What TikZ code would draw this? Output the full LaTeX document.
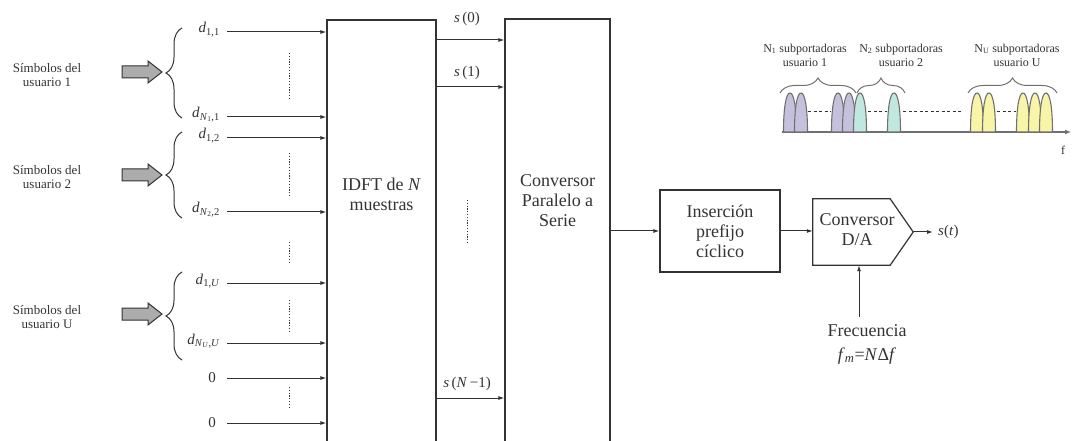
\documentclass[tikz,border=0pt]{standalone}
\usepackage{fontspec}
\setmainfont{Liberation Serif}
\usetikzlibrary{arrows.meta,decorations.pathreplacing,calc}
\definecolor{ink}{HTML}{333333}
\definecolor{axisgray}{HTML}{707070}
\definecolor{lila}{HTML}{C5C1DD}
\definecolor{aqua}{HTML}{C0E8E0}
\definecolor{lemon}{HTML}{F8F4A8}
% one subcarrier lobe of the spectrum: centre x, fill colour
\newcommand\subcarrier[2]{%
  \filldraw[fill=#2, draw=axisgray, line width=1.1pt]
    ({#1-6.5},132) .. controls ({#1-6.5},108) and ({#1-4},93) .. ({#1},93)
    .. controls ({#1+4},93) and ({#1+6.5},108) .. ({#1+6.5},132) -- cycle;}
\begin{document}
\begin{tikzpicture}[x=1pt,y=-1pt,
  every node/.style={text=ink, inner sep=0pt},
  sig/.style={draw=ink, line width=1pt, -{Latex[length=6pt,width=4pt]}},
  blk/.style={draw=ink, line width=1.2pt},
  vdots/.style={draw=ink, line width=1pt, dash pattern=on 1.2pt off 1.6pt},
  big/.style={font=\fontsize{18}{20}\selectfont, align=center},
  side/.style={font=\fontsize{13}{14}\selectfont, align=center},
  lbl/.style={font=\fontsize{15}{17}\selectfont},
  spec/.style={font=\fontsize{12}{14}\selectfont, align=center},
  brc/.style={draw=ink, line width=1pt, decorate, decoration={brace, amplitude=16pt}},
  sbrc/.style={draw=axisgray, line width=1pt, decorate, decoration={brace, amplitude=15pt}},
  garrow/.pic={\filldraw[fill=gray!65, draw=ink, line width=1pt]
     (-20,-6) -- (6,-6) -- (6,-11) -- (20,0) -- (6,11) -- (6,6) -- (-20,6) -- cycle;}
]
\useasboundingbox (0,0) rectangle (1072,441);
\clip (0,0) rectangle (1072,441);

% ---------- user symbol groups ----------
\node[side] (u1) at (47,75) {Símbolos del\\usuario 1};
\node[side] (u2) at (47,177) {Símbolos del\\usuario 2};
\node[side] (uU) at (47,317) {Símbolos del\\usuario U};
\pic at (142,72) {garrow};
\pic at (142,175) {garrow};
\pic at (142,314) {garrow};
\draw[brc] (182,118) -- (182,28);
\draw[brc] (182,218) -- (182,132);
\draw[brc] (182,360) -- (182,272);

% ---------- IDFT block ----------
\node[blk, minimum width=109pt, minimum height=450pt] (idft) at (381.5,245) {};
\node[big] (idfttxt) at (381.5,194) {IDFT de \textit{N}\\muestras};

% ---------- inputs to the IDFT ----------
\node[lbl, anchor=base east] (l1) at (220,33) {\textit{d}\textsubscript{1,1}};
\node[lbl, anchor=base east] (l2) at (220,118) {\textit{d}\textsubscript{\textit{N}\textsubscript{1},1}};
\node[lbl, anchor=base east] (l3) at (220,139) {\textit{d}\textsubscript{1,2}};
\node[lbl, anchor=base east] (l4) at (220,213) {\textit{d}\textsubscript{\textit{N}\textsubscript{2},2}};
\node[lbl, anchor=base east] (l5) at (220,284) {\textit{d}\textsubscript{1,\textit{U}}};
\node[lbl, anchor=base east] (l6) at (220,344) {\textit{d}\textsubscript{\textit{N}\textsubscript{\textit{U}},\textit{U}}};
\node[lbl, anchor=east] (l7) at (216,378) {0};
\node[lbl, anchor=east] (l8) at (216,423) {0};
\coordinate (i1) at (227,32);
\coordinate (i2) at (227,117);
\coordinate (i3) at (227,138);
\coordinate (i4) at (227,212);
\coordinate (i5) at (227,283);
\coordinate (i6) at (227,343);
\coordinate (i7) at (227,378);
\coordinate (i8) at (227,423);
\foreach \c in {i1,i2,i3,i4,i5,i6,i7,i8}
  \draw[sig] (\c) -- (\c -| idft.west);
\draw[vdots] (289,53) -- (289,98);
\draw[vdots] (289,153) -- (289,197);
\draw[vdots] (289,242) -- (289,263);
\draw[vdots] (289,300) -- (289,333);
\draw[vdots] (289,387) -- (289,407);

% ---------- parallel to serial block ----------
\node[blk, minimum width=105pt, minimum height=452pt] (ps) at (557.5,245) {};
\node[big] (pstxt) at (557.5,201) {Conversor\\Paralelo a\\Serie};
\coordinate (o0) at (436,40);
\coordinate (o1) at (436,87);
\coordinate (oN) at (436,398);
\draw[sig] (o0) -- (o0 -| ps.west);
\draw[sig] (o1) -- (o1 -| ps.west);
\draw[sig] (oN) -- (oN -| ps.west);
\node[lbl] (s0) at (467,19) {\textit{s}\,(0)};
\node[lbl] (s1) at (467,73) {\textit{s}\,(1)};
\node[lbl] (sN) at (467,384) {\textit{s}\,(\textit{N}\,−1)};
\draw[vdots] (467,200) -- (467,243);

% ---------- cyclic prefix and D/A ----------
\node[blk, big, minimum width=120pt, minimum height=82pt] (cp) at (720,231) {Inserción\\prefijo\\cíclico};
\node[minimum width=100pt, minimum height=66pt] (da) at (863,232) {};
\draw[blk, line join=miter] (da.north west) -- ($(da.north east)+(-23,0)$) -- (da.east)
   -- ($(da.south east)+(-23,0)$) -- (da.south west) -- cycle;
\node[big] (datxt) at (857,230) {Conversor\\D/A};
\node[lbl, anchor=west, inner sep=5pt] (st) at (933,232) {\textit{s}(\textit{t})};
\draw[sig] (ps.east |- cp.west) -- (cp.west);
\draw[sig] (cp.east) -- (cp.east -| da.west);
\draw[sig] (da.east) -- (st.west);
\node[big] (fq) at (867,344) {Frecuencia\\[4pt]\textit{f}\textsubscript{\textit{m}}=\textit{N}Δ\textit{f}};
\coordinate (fqtop) at (859,317);
\draw[sig] (fqtop) -- (fqtop |- da.south);

% ---------- subcarrier allocation spectrum ----------
\draw[draw=axisgray, line width=1.3pt, -{Latex[length=6pt,width=5pt]}] (782,132) -- (1071,132);
\node[spec] (fax) at (1063,150) {f};
\foreach \x in {790,801,838,849} {\subcarrier{\x}{lila}}
\foreach \x in {860,894} {\subcarrier{\x}{aqua}}
\foreach \x in {977,989,1023,1035,1046} {\subcarrier{\x}{lemon}}
\draw[draw=ink, line width=0.9pt, dash pattern=on 3pt off 2.5pt] (808,111) -- (831,111);
\draw[draw=ink, line width=0.9pt, dash pattern=on 3pt off 2.5pt] (868,111) -- (887,111);
\draw[draw=ink, line width=0.9pt, dash pattern=on 3pt off 2.5pt] (903,111) -- (962,111);
\draw[draw=ink, line width=0.9pt, dash pattern=on 3pt off 2.5pt] (997,111) -- (1016,111);
\draw[sbrc] (780,93) -- (856,93);
\draw[sbrc] (857,93) -- (905,93);
\draw[sbrc] (968,93) -- (1057,93);
\node[spec] (n1) at (805,55) {N\textsubscript{1} subportadoras\\usuario 1};
\node[spec] (n2) at (901,55) {N\textsubscript{2} subportadoras\\usuario 2};
\node[spec] (nU) at (1017,55) {N\textsubscript{U} subportadoras\\usuario U};
\end{tikzpicture}
\end{document}
